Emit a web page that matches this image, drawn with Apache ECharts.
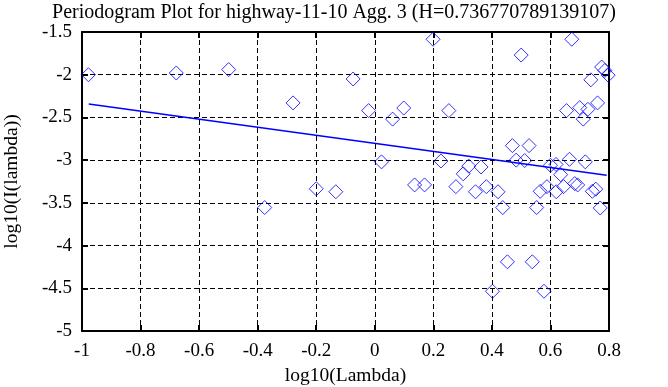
<!DOCTYPE html>
<html>
<head>
<meta charset="utf-8">
<script src="https://cdn.jsdelivr.net/npm/echarts@6/dist/echarts.min.js"></script>
<style>html,body{margin:0;padding:0;background:#fff;}#c{width:668px;height:387px;}</style>
</head>
<body>
<div id="c"></div>
<script>
const titleText = "Periodogram Plot for highway-11-10 Agg. 3 (H=0.736770789139107)";
const xName = "log10(Lambda)";
const yName = "log10(I(lambda))";
const logLambda = [-0.978,-0.678,-0.499,-0.279,-0.376,-0.200,-0.133,-0.074,-0.021,0.023,
  0.061,0.099,0.136,0.170,0.199,0.226,0.253,0.277,0.302,0.321,
  0.344,0.363,0.381,0.402,0.421,0.437,0.453,0.470,0.483,0.500,
  0.512,0.527,0.538,0.553,0.565,0.578,0.588,0.600,0.619,0.620,
  0.635,0.645,0.655,0.665,0.673,0.683,0.693,0.700,0.712,0.719,
  0.728,0.738,0.743,0.755,0.761,0.770,0.775,0.786,0.797];
const logI = [-2.00,-1.98,-1.94,-2.33,-3.555,-3.335,-3.37,-2.05,-2.42,-3.02,
  -2.52,-2.39,-3.29,-3.29,-1.585,-3.01,-2.42,-3.31,-3.16,-3.07,
  -3.37,-3.08,-3.31,-4.535,-3.37,-3.555,-4.19,-2.83,-3.00,-1.77,
  -3.005,-2.83,-4.19,-3.555,-3.365,-4.535,-3.31,-3.06,-3.05,-3.37,
  -3.17,-3.31,-2.42,-2.99,-1.585,-3.275,-3.29,-2.385,-2.52,-3.02,
  -2.405,-2.06,-3.365,-3.34,-2.33,-3.56,-1.91,-1.95,-2.005];
const fitX = [-0.977, 0.792];
const fitY = [-2.343, -3.177];

const font = "'Liberation Serif', 'Times New Roman', serif";
const chart = echarts.init(document.getElementById('c'), null, {renderer:'canvas'});
const gridSplit = {show:true, lineStyle:{color:'#000', type:[5,3], width:1}};
const tickIn = {show:true, inside:true, length:6, lineStyle:{color:'#000', width:2}};
const boxLine = {show:true, onZero:false, lineStyle:{color:'#000', width:2}};
chart.setOption({
  animation:false,
  backgroundColor:'#fff',
  title:{text:titleText, left:'center', top:-2,
    textStyle:{fontFamily:font, fontSize:20, fontWeight:'normal', color:'#000'}},
  grid:{left:82, right:59, top:32, bottom:56, show:false, containLabel:false, outerBoundsMode:'none'},
  xAxis:[{type:'value', min:-1, max:0.8, interval:0.2, position:'bottom',
    name:xName, nameLocation:'middle', nameGap:35,
    nameTextStyle:{fontFamily:font, fontSize:19.5, color:'#000'},
    axisLine:boxLine, axisTick:tickIn, splitLine:gridSplit,
    axisLabel:{fontFamily:font, fontSize:19, color:'#000', margin:11,
      formatter:v=>String(Math.round(v*10)/10)}},
   {type:'value', min:-1, max:0.8, interval:0.2, position:'top',
    axisLine:boxLine, axisTick:tickIn, splitLine:{show:false}, axisLabel:{show:false}}],
  yAxis:[{type:'value', min:-5, max:-1.5, interval:0.5, position:'left',
    name:yName, nameLocation:'middle', nameGap:60,
    nameTextStyle:{fontFamily:font, fontSize:19.5, color:'#000'},
    axisLine:boxLine, axisTick:tickIn, splitLine:gridSplit,
    axisLabel:{fontFamily:font, fontSize:19, color:'#000', margin:10,
      formatter:v=>String(Math.round(v*10)/10)}},
   {type:'value', min:-5, max:-1.5, interval:0.5, position:'right',
    axisLine:boxLine, axisTick:tickIn, splitLine:{show:false}, axisLabel:{show:false}}],
  series:[
    {type:'scatter', xAxisIndex:0, yAxisIndex:0, symbol:'diamond', symbolSize:14,
     itemStyle:{color:'transparent', borderColor:'#0000ff', borderWidth:1},
     data:logLambda.map((x,i)=>[x, logI[i]])},
    {type:'line', xAxisIndex:0, yAxisIndex:0, showSymbol:false, symbol:'none',
     lineStyle:{color:'#0000ff', width:1.5},
     data:fitX.map((x,i)=>[x, fitY[i]])}
  ]
});
</script>
</body>
</html>
